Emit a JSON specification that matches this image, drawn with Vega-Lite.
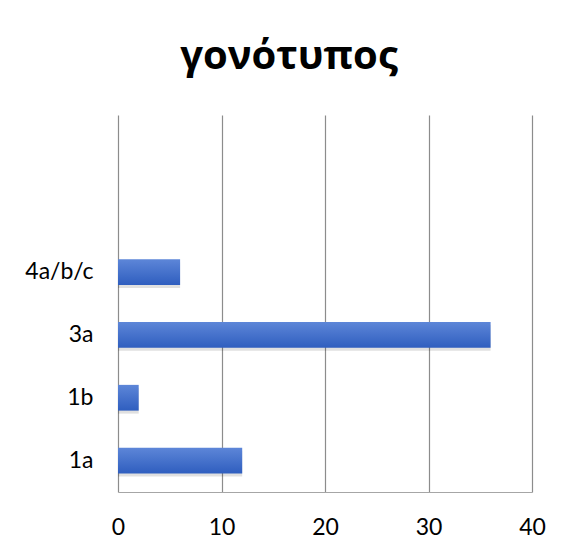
{
  "$schema": "https://vega.github.io/schema/vega-lite/v6.json",
  "width": 414,
  "height": 377,
  "autosize": {"type": "none"},
  "padding": {"left": 118, "top": 115, "right": 43, "bottom": 68},
  "background": "white",
  "title": {
    "text": "γονότυπος",
    "font": "Open Sans",
    "fontSize": 40,
    "fontWeight": "bold",
    "color": "#000000",
    "anchor": "middle",
    "baseline": "bottom",
    "offset": -2,
    "dx": -36
  },
  "data": {
    "values": [
      {"genotype": "4a/b/c", "count": 6},
      {"genotype": "3a", "count": 36},
      {"genotype": "1b", "count": 2},
      {"genotype": "1a", "count": 12}
    ]
  },
  "config": {
    "view": {"stroke": null},
    "axis": {"labelFont": "Lato", "labelFontSize": 23, "labelColor": "#000000"}
  },
  "layer": [
    {
      "mark": {"type": "bar", "color": "#000000", "opacity": 0.12, "yOffset": 3, "x2Offset": 3},
      "encoding": {
        "x": {"field": "count", "type": "quantitative", "scale": {"domain": [0, 40]}},
        "y": {"field": "genotype", "type": "nominal"}
      }
    },
    {
      "mark": {
        "type": "bar",
        "color": {
          "gradient": "linear",
          "x1": 0, "y1": 0, "x2": 0, "y2": 1,
          "stops": [
            {"offset": 0, "color": "#5d86d8"},
            {"offset": 1, "color": "#2f5ebf"}
          ]
        }
      },
      "encoding": {
        "x": {
          "field": "count",
          "type": "quantitative",
          "scale": {"domain": [0, 40]},
          "axis": {
            "title": null,
            "values": [0, 10, 20, 30, 40],
            "grid": true,
            "gridColor": "#8c8c8c",
            "gridWidth": 1.2,
            "domainColor": "#a6a6a6",
            "domainWidth": 1.2,
            "ticks": false,
            "labelFlush": false,
            "labelPadding": 24
          }
        },
        "y": {
          "field": "genotype",
          "type": "nominal",
          "sort": null,
          "scale": {
            "domain": ["", " ", "4a/b/c", "3a", "1b", "1a"],
            "paddingInner": 0.59,
            "paddingOuter": 0.295
          },
          "axis": {
            "title": null,
            "domain": false,
            "ticks": false,
            "labelPadding": 25
          }
        }
      }
    }
  ],
  "resolve": {"scale": {"x": "shared", "y": "shared"}}
}
